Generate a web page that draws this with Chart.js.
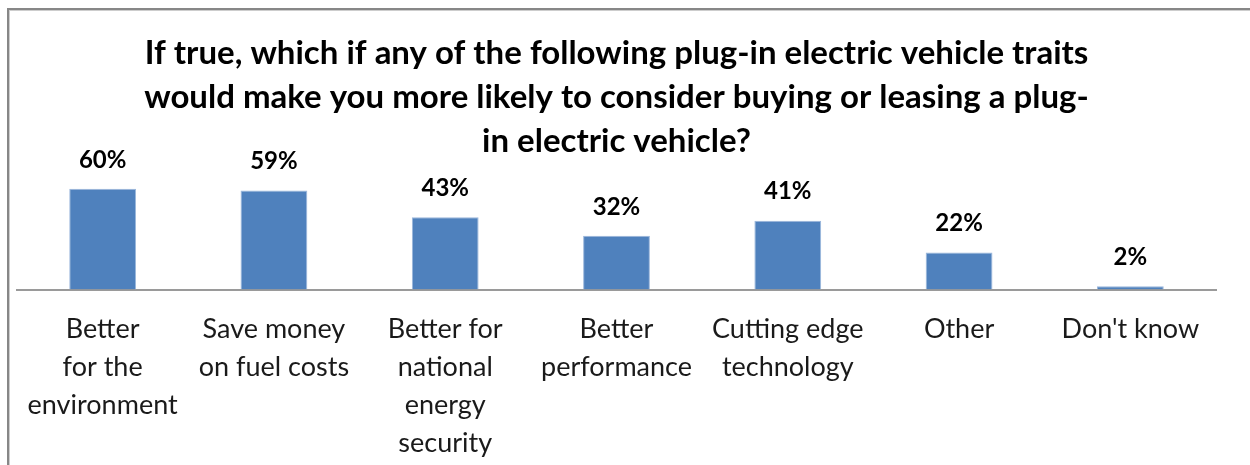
<!DOCTYPE html>
<html lang="en">
<head>
  <meta charset="UTF-8" />
  <title>Plug-in EV traits</title>
  <script src="https://cdn.jsdelivr.net/npm/chart.js"></script>
  <style>
    html, body { margin: 0; padding: 0; background: #fff; }
    .wrap { position: relative; width: 1250px; height: 465px; overflow: hidden; }
    .frame {
      position: absolute; left: 7px; top: 8px; right: -10px; bottom: -10px;
      border-left: 2px solid #878787; border-top: 2px solid #878787;
      box-shadow: inset 1px 1px 0 #cdcdcd;
      pointer-events: none;
    }
    canvas { position: absolute; left: 0; top: 0; }
  </style>
</head>
<body>
  <div class="wrap">
    <canvas id="traitsChart" width="1250" height="465"></canvas>
    <div class="frame"></div>
  </div>

  <script>
    // survey answers
    const categories = [
      ['Better', 'for the', 'environment'],
      ['Save money', 'on fuel costs'],
      ['Better for', 'national', 'energy', 'security'],
      ['Better', 'performance'],
      ['Cutting edge', 'technology'],
      'Other',
      "Don't know"
    ];
    const shares = [60, 59, 43, 32, 41, 22, 2];
    const titleLines = [
      'If true, which if any of the following plug-in electric vehicle traits',
      'would make you more likely to consider buying or leasing a plug-',
      'in electric vehicle?'
    ];

    // percentage above each bar
    const valueLabels = {
      id: 'valueLabels',
      afterDatasetsDraw(chart) {
        const ctx = chart.ctx;
        const meta = chart.getDatasetMeta(0);
        ctx.save();
        ctx.font = 'bold 24px Lato';
        ctx.fillStyle = '#000';
        ctx.textAlign = 'center';
        ctx.textBaseline = 'middle';
        meta.data.forEach((bar, i) => {
          ctx.fillText(shares[i] + '%', bar.x, bar.y - 29);
        });
        ctx.restore();
      }
    };

    new Chart(document.getElementById('traitsChart'), {
      type: 'bar',
      data: {
        labels: categories,
        datasets: [{
          data: shares,
          backgroundColor: '#4f81bd',
          borderColor: '#9bb7dc',
          borderWidth: 1,
          categoryPercentage: 1,
          barPercentage: 0.39
        }]
      },
      options: {
        responsive: false,
        animation: false,
        layout: { padding: { left: 17, right: 34, top: 0, bottom: 0 } },
        plugins: {
          legend: { display: false },
          tooltip: { enabled: false },
          title: {
            display: true,
            text: titleLines,
            color: '#000',
            font: { family: 'Lato', size: 33, weight: 'bold', lineHeight: '44px' },
            padding: { top: 31, bottom: 9 }
          }
        },
        scales: {
          x: {
            grid: { display: false, drawTicks: false },
            border: { display: true, color: '#9a9a9a', width: 2 },
            ticks: {
              color: '#1a1a1a',
              font: { family: 'Lato', size: 27, lineHeight: '38px' },
              padding: 21,
              maxRotation: 0,
              autoSkip: false
            },
            afterFit(scale) { scale.height = 175.5; }
          },
          y: {
            display: false,
            min: 0,
            max: 70
          }
        }
      },
      plugins: [valueLabels]
    });
  </script>
</body>
</html>
